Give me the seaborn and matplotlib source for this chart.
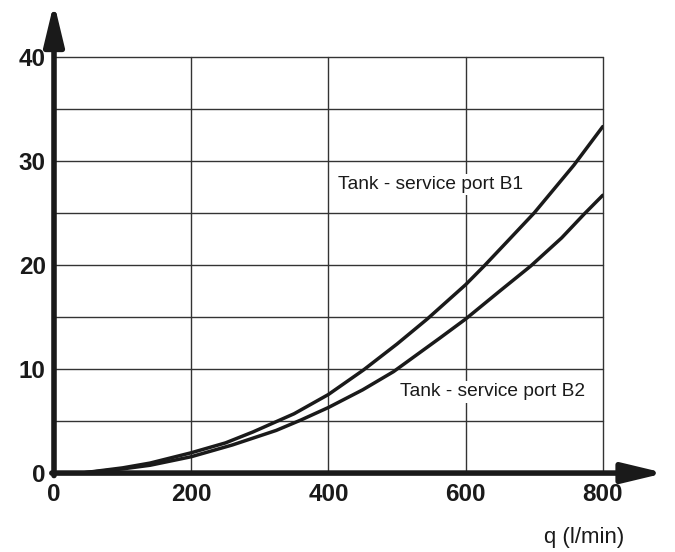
import numpy as np
import pandas as pd
import matplotlib
matplotlib.use("Agg")
import matplotlib.pyplot as plt
import seaborn as sns

# Данные
q_b1 = [0, 40, 100, 140, 200, 250, 290, 350, 400, 451, 500, 544, 600, 627, 660, 700, 758, 800]
dp_b1 = [0, 0.0, 0.5, 0.96, 1.95, 2.9, 3.95, 5.7, 7.55, 9.9, 12.4, 14.8, 18.1, 19.9, 22.2, 25.0, 29.6, 33.3]
q_b2 = [0, 40, 100, 140, 200, 260, 324, 360, 400, 450, 495, 563, 600, 650, 695, 740, 773, 800]
dp_b2 = [0, 0.0, 0.4, 0.75, 1.57, 2.7, 4.1, 5.1, 6.3, 8.0, 9.75, 13.0, 14.8, 17.5, 19.9, 22.6, 24.9, 26.7]
labels = ["Tank - service port B1", "Tank - service port B2"]

df = pd.DataFrame({
    "q": q_b1 + q_b2,
    "dp": dp_b1 + dp_b2,
    "curve": [labels[0]] * len(q_b1) + [labels[1]] * len(q_b2),
})

sns.set_style("white")
plt.rcParams['font.family'] = ['Liberation Sans', 'DejaVu Sans']

fig = plt.figure(figsize=(6.75, 5.52), dpi=100)
ax = fig.add_axes([0.08, 0.143, 0.813, 0.754])

sns.lineplot(data=df, x="q", y="dp", units="curve", estimator=None,
             color="#1a1a1a", lw=2.5, ax=ax, legend=False)

ax.set_xlim(0, 800)
ax.set_ylim(0, 40)
ax.set_xticks([0, 200, 400, 600, 800])
ax.set_yticks([0, 10, 20, 30, 40])
ax.set_yticks([5, 15, 25, 35], minor=True)
ax.grid(True, which="both", color="#333333", lw=1)
gridlines = (ax.xaxis.get_gridlines() + ax.yaxis.get_gridlines()
             + [t.gridline for t in ax.yaxis.get_minor_ticks()])
for gl in gridlines:
    gl.set_clip_on(False)
ax.tick_params(which="both", length=0, labelsize=17.5, colors="#1a1a1a")
ax.tick_params(axis="x", pad=7)
ax.tick_params(axis="y", pad=6)
for t in ax.get_xticklabels() + ax.get_yticklabels():
    t.set_fontweight("bold")
ax.set_xlabel("")
ax.set_ylabel("")
for s in ax.spines.values():
    s.set_visible(False)

# оси со стрелками
arrow = dict(arrowstyle="-|>,head_length=1.25,head_width=0.3", lw=4,
             color="#1a1a1a", shrinkA=0, shrinkB=0, mutation_scale=20)
ax.annotate("", xy=(0, 1.13), xytext=(0, -0.006), xycoords="axes fraction",
            arrowprops=arrow, annotation_clip=False)
ax.annotate("", xy=(1.113, 0), xytext=(-0.004, 0), xycoords="axes fraction",
            arrowprops=arrow, annotation_clip=False)

# подписи кривых на белом фоне (сетка прерывается)
box = dict(facecolor="white", edgecolor="none", pad=1.5)
ax.text(414, 27.7, labels[0], fontsize=13.8, va="center", color="#1a1a1a", bbox=box)
ax.text(504, 7.8, labels[1], fontsize=13.8, va="center", color="#1a1a1a", bbox=box)

fig.text(0.865, 0.027, "q (l/min)", fontsize=16, ha="center", va="center", color="#1a1a1a")

fig.savefig("out.png", dpi=100)
